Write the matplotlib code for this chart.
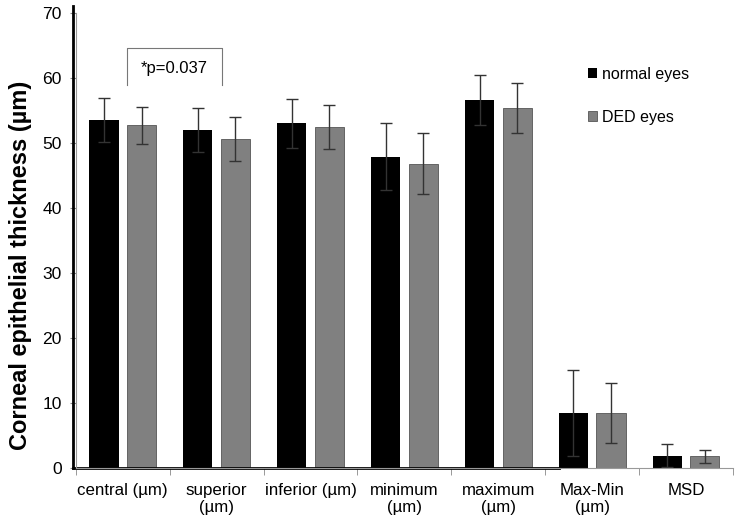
import numpy as np
import matplotlib.pyplot as plt
from matplotlib.lines import Line2D

plt.rcParams['font.family'] = ['Liberation Sans', 'DejaVu Sans']

categories = ['central (µm)', 'superior\n(µm)', 'inferior (µm)', 'minimum\n(µm)',
              'maximum\n(µm)', 'Max-Min\n(µm)', 'MSD']
normal_mean = [53.5, 52.0, 53.0, 47.9, 56.6, 8.5, 1.9]
normal_err = [3.4, 3.4, 3.7, 5.2, 3.9, 6.6, 1.7]
ded_mean = [52.7, 50.6, 52.5, 46.8, 55.4, 8.4, 1.8]
ded_err = [2.8, 3.4, 3.4, 4.7, 3.8, 4.6, 1.0]
p_label = '*p=0.037'

fig = plt.figure(figsize=(7.36, 5.21), dpi=100)
ax = fig.add_axes([0.103, 0.102, 0.893, 0.873])

x = np.arange(len(categories))
w = 0.31
off = 0.2
ekw = dict(ecolor='#333333', elinewidth=1.0, capsize=4, capthick=1.0)
ax.bar(x - off, normal_mean, w, color='black', yerr=normal_err,
       error_kw=ekw, label='normal eyes', zorder=2)
ax.bar(x + off, ded_mean, w, color='#808080', edgecolor='#555555', linewidth=0.6,
       yerr=ded_err, error_kw=ekw, label='DED eyes', zorder=2)

ax.set_xlim(-0.5, len(categories) - 0.5)
ax.set_ylim(0, 70)
ax.set_yticks(range(0, 71, 10))
ax.set_xticks(x)
ax.set_xticklabels(categories, fontsize=12.2, linespacing=1.15)
ax.set_xticks(np.arange(-0.5, len(categories)), minor=True)
ax.tick_params(axis='x', which='major', length=0, pad=11)
ax.tick_params(axis='x', which='minor', length=5, color='#888888', direction='out')
ax.tick_params(axis='y', labelsize=12.6, length=4, color='#888888', pad=6)

for s in ['top', 'right']:
    ax.spines[s].set_visible(False)
ax.spines['left'].set_color('#999999')
ax.spines['bottom'].set_color('#999999')
ax.spines['left'].set_linewidth(0.8)
ax.spines['bottom'].set_linewidth(0.8)

# heavy axis strokes as in the original figure
ax.add_line(Line2D([-0.005, -0.005], [0, 1.015], transform=ax.transAxes,
                   color='black', lw=2, clip_on=False))
ax.add_line(Line2D([-0.005, 0.735], [0, 0], transform=ax.transAxes,
                   color='black', lw=2, clip_on=False))

ax.set_ylabel('Corneal epithelial thickness (µm)', fontsize=17,
              fontweight='bold')
ax.yaxis.set_label_coords(-0.066, 0.445)

# significance bracket
bx0, bx1, by_top, by_low = 0.043, 1.055, 64.6, 58.9
ax.plot([bx0, bx0, bx1, bx1], [by_low, by_top, by_top, by_low],
        color='#777777', lw=0.8, zorder=3)
ax.text((bx0 + bx1) / 2, 61.5, p_label, ha='center', va='center', fontsize=12)

leg = ax.legend(loc='upper left', bbox_to_anchor=(0.757, 0.913), frameon=False,
                fontsize=11.5, handlelength=0.6, handleheight=0.6,
                handletextpad=0.3, labelspacing=1.75)

fig.savefig('out.png', dpi=100)
